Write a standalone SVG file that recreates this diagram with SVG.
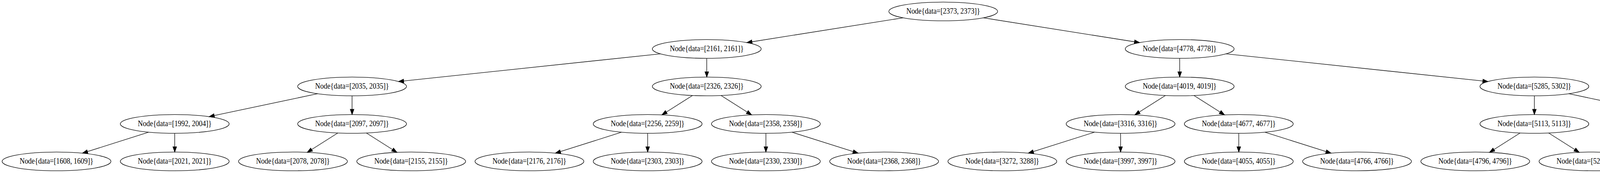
<svg xmlns="http://www.w3.org/2000/svg" width="4830" height="443" viewBox="0 0 4830 443">
<style>
.n ellipse{fill:none;stroke:#000;stroke-width:1.33}
.n text{font-family:"Liberation Serif","Times New Roman",serif;font-size:22px;fill:#000;text-anchor:middle}
#edges line{stroke:#000;stroke-width:1.33;fill:none;marker-end:url(#ah)}
</style>
<defs>
<marker id="ah" markerUnits="userSpaceOnUse" viewBox="0 -6 16 12" markerWidth="16" markerHeight="12" refX="0" refY="0" orient="auto" overflow="visible">
<path d="M0,-4.67 L13.33,0 L0,4.67 Z" fill="#000" stroke="#000" stroke-width="1.33"/>
</marker>
</defs>
<rect width="4830" height="443" fill="#fff"/>
<g id="edges">
<line x1="2312.17" y1="45.59" x2="1925" y2="106.98"/>
<line x1="2517.17" y1="45.59" x2="2904.33" y2="106.98"/>
<line x1="1690.58" y1="137.88" x2="1033.34" y2="207.38"/>
<line x1="1809.33" y1="149.33" x2="1809.33" y2="184"/>
<line x1="3020" y1="149.33" x2="3020" y2="184"/>
<line x1="3138.75" y1="137.88" x2="3795.99" y2="207.38"/>
<line x1="813.33" y1="239.94" x2="548.37" y2="295.96"/>
<line x1="901.33" y1="245.33" x2="901.33" y2="280"/>
<line x1="1772.82" y1="244.49" x2="1705.77" y2="287.03"/>
<line x1="1845.84" y1="244.49" x2="1912.9" y2="287.03"/>
<line x1="2983.49" y1="244.49" x2="2916.44" y2="287.03"/>
<line x1="3056.51" y1="244.49" x2="3123.56" y2="287.03"/>
<line x1="3928" y1="245.33" x2="3928" y2="280"/>
<line x1="4016" y1="239.94" x2="4280.96" y2="295.96"/>
<line x1="380.84" y1="338.42" x2="223.87" y2="388.21"/>
<line x1="447.33" y1="341.33" x2="447.33" y2="376"/>
<line x1="864.82" y1="340.49" x2="797.77" y2="383.03"/>
<line x1="937.84" y1="340.49" x2="1004.9" y2="383.03"/>
<line x1="1591.51" y1="338.42" x2="1434.53" y2="388.21"/>
<line x1="1658" y1="341.33" x2="1658" y2="376"/>
<line x1="1960.67" y1="341.33" x2="1960.67" y2="376"/>
<line x1="2027.16" y1="338.42" x2="2184.13" y2="388.21"/>
<line x1="2802.18" y1="338.42" x2="2645.2" y2="388.21"/>
<line x1="2868.67" y1="341.33" x2="2868.67" y2="376"/>
<line x1="3171.33" y1="341.33" x2="3171.33" y2="376"/>
<line x1="3237.82" y1="338.42" x2="3394.8" y2="388.21"/>
<line x1="3891.49" y1="340.49" x2="3824.44" y2="383.03"/>
<line x1="3964.51" y1="340.49" x2="4031.56" y2="383.03"/>
<line x1="4382" y1="341.33" x2="4382" y2="376"/>
<line x1="4448.49" y1="338.42" x2="4605.47" y2="388.21"/>
</g>
<g id="n2373" class="n"><ellipse cx="2414.67" cy="29.33" rx="139.33" ry="24"/><text x="2414.67" y="35" textLength="189" lengthAdjust="spacingAndGlyphs">Node{data=[2373, 2373]}</text></g>
<g id="n2161" class="n"><ellipse cx="1809.33" cy="125.33" rx="139.33" ry="24"/><text x="1809.33" y="131" textLength="189" lengthAdjust="spacingAndGlyphs">Node{data=[2161, 2161]}</text></g>
<g id="n4778" class="n"><ellipse cx="3020" cy="125.33" rx="139.33" ry="24"/><text x="3020" y="131" textLength="189" lengthAdjust="spacingAndGlyphs">Node{data=[4778, 4778]}</text></g>
<g id="n2035" class="n"><ellipse cx="901.33" cy="221.33" rx="139.33" ry="24"/><text x="901.33" y="227" textLength="189" lengthAdjust="spacingAndGlyphs">Node{data=[2035, 2035]}</text></g>
<g id="n2326" class="n"><ellipse cx="1809.33" cy="221.33" rx="139.33" ry="24"/><text x="1809.33" y="227" textLength="189" lengthAdjust="spacingAndGlyphs">Node{data=[2326, 2326]}</text></g>
<g id="n4019" class="n"><ellipse cx="3020" cy="221.33" rx="139.33" ry="24"/><text x="3020" y="227" textLength="189" lengthAdjust="spacingAndGlyphs">Node{data=[4019, 4019]}</text></g>
<g id="n5285" class="n"><ellipse cx="3928" cy="221.33" rx="139.33" ry="24"/><text x="3928" y="227" textLength="189" lengthAdjust="spacingAndGlyphs">Node{data=[5285, 5302]}</text></g>
<g id="n1992" class="n"><ellipse cx="447.33" cy="317.33" rx="139.33" ry="24"/><text x="447.33" y="323" textLength="189" lengthAdjust="spacingAndGlyphs">Node{data=[1992, 2004]}</text></g>
<g id="n2097" class="n"><ellipse cx="901.33" cy="317.33" rx="139.33" ry="24"/><text x="901.33" y="323" textLength="189" lengthAdjust="spacingAndGlyphs">Node{data=[2097, 2097]}</text></g>
<g id="n2256" class="n"><ellipse cx="1658" cy="317.33" rx="139.33" ry="24"/><text x="1658" y="323" textLength="189" lengthAdjust="spacingAndGlyphs">Node{data=[2256, 2259]}</text></g>
<g id="n2358" class="n"><ellipse cx="1960.67" cy="317.33" rx="139.33" ry="24"/><text x="1960.67" y="323" textLength="189" lengthAdjust="spacingAndGlyphs">Node{data=[2358, 2358]}</text></g>
<g id="n3316" class="n"><ellipse cx="2868.67" cy="317.33" rx="139.33" ry="24"/><text x="2868.67" y="323" textLength="189" lengthAdjust="spacingAndGlyphs">Node{data=[3316, 3316]}</text></g>
<g id="n4677" class="n"><ellipse cx="3171.33" cy="317.33" rx="139.33" ry="24"/><text x="3171.33" y="323" textLength="189" lengthAdjust="spacingAndGlyphs">Node{data=[4677, 4677]}</text></g>
<g id="n5113" class="n"><ellipse cx="3928" cy="317.33" rx="139.33" ry="24"/><text x="3928" y="323" textLength="189" lengthAdjust="spacingAndGlyphs">Node{data=[5113, 5113]}</text></g>
<g id="n6379" class="n"><ellipse cx="4382" cy="317.33" rx="139.33" ry="24"/><text x="4382" y="323" textLength="189" lengthAdjust="spacingAndGlyphs">Node{data=[6379, 6515]}</text></g>
<g id="n1608" class="n"><ellipse cx="144.67" cy="413.33" rx="139.33" ry="24"/><text x="144.67" y="419" textLength="189" lengthAdjust="spacingAndGlyphs">Node{data=[1608, 1609]}</text></g>
<g id="n2021" class="n"><ellipse cx="447.33" cy="413.33" rx="139.33" ry="24"/><text x="447.33" y="419" textLength="189" lengthAdjust="spacingAndGlyphs">Node{data=[2021, 2021]}</text></g>
<g id="n2078" class="n"><ellipse cx="750" cy="413.33" rx="139.33" ry="24"/><text x="750" y="419" textLength="189" lengthAdjust="spacingAndGlyphs">Node{data=[2078, 2078]}</text></g>
<g id="n2155" class="n"><ellipse cx="1052.67" cy="413.33" rx="139.33" ry="24"/><text x="1052.67" y="419" textLength="189" lengthAdjust="spacingAndGlyphs">Node{data=[2155, 2155]}</text></g>
<g id="n2176" class="n"><ellipse cx="1355.33" cy="413.33" rx="139.33" ry="24"/><text x="1355.33" y="419" textLength="189" lengthAdjust="spacingAndGlyphs">Node{data=[2176, 2176]}</text></g>
<g id="n2303" class="n"><ellipse cx="1658" cy="413.33" rx="139.33" ry="24"/><text x="1658" y="419" textLength="189" lengthAdjust="spacingAndGlyphs">Node{data=[2303, 2303]}</text></g>
<g id="n2330" class="n"><ellipse cx="1960.67" cy="413.33" rx="139.33" ry="24"/><text x="1960.67" y="419" textLength="189" lengthAdjust="spacingAndGlyphs">Node{data=[2330, 2330]}</text></g>
<g id="n2368" class="n"><ellipse cx="2263.33" cy="413.33" rx="139.33" ry="24"/><text x="2263.33" y="419" textLength="189" lengthAdjust="spacingAndGlyphs">Node{data=[2368, 2368]}</text></g>
<g id="n3272" class="n"><ellipse cx="2566" cy="413.33" rx="139.33" ry="24"/><text x="2566" y="419" textLength="189" lengthAdjust="spacingAndGlyphs">Node{data=[3272, 3288]}</text></g>
<g id="n3997" class="n"><ellipse cx="2868.67" cy="413.33" rx="139.33" ry="24"/><text x="2868.67" y="419" textLength="189" lengthAdjust="spacingAndGlyphs">Node{data=[3997, 3997]}</text></g>
<g id="n4055" class="n"><ellipse cx="3171.33" cy="413.33" rx="139.33" ry="24"/><text x="3171.33" y="419" textLength="189" lengthAdjust="spacingAndGlyphs">Node{data=[4055, 4055]}</text></g>
<g id="n4766" class="n"><ellipse cx="3474" cy="413.33" rx="139.33" ry="24"/><text x="3474" y="419" textLength="189" lengthAdjust="spacingAndGlyphs">Node{data=[4766, 4766]}</text></g>
<g id="n4796" class="n"><ellipse cx="3776.67" cy="413.33" rx="139.33" ry="24"/><text x="3776.67" y="419" textLength="189" lengthAdjust="spacingAndGlyphs">Node{data=[4796, 4796]}</text></g>
<g id="n5283" class="n"><ellipse cx="4079.33" cy="413.33" rx="139.33" ry="24"/><text x="4079.33" y="419" textLength="189" lengthAdjust="spacingAndGlyphs">Node{data=[5283, 5283]}</text></g>
<g id="n5737" class="n"><ellipse cx="4382" cy="413.33" rx="139.33" ry="24"/><text x="4382" y="419" textLength="189" lengthAdjust="spacingAndGlyphs">Node{data=[5737, 5737]}</text></g>
<g id="n9532" class="n"><ellipse cx="4684.67" cy="413.33" rx="139.33" ry="24"/><text x="4684.67" y="419" textLength="189" lengthAdjust="spacingAndGlyphs">Node{data=[9532, 9532]}</text></g>
</svg>
